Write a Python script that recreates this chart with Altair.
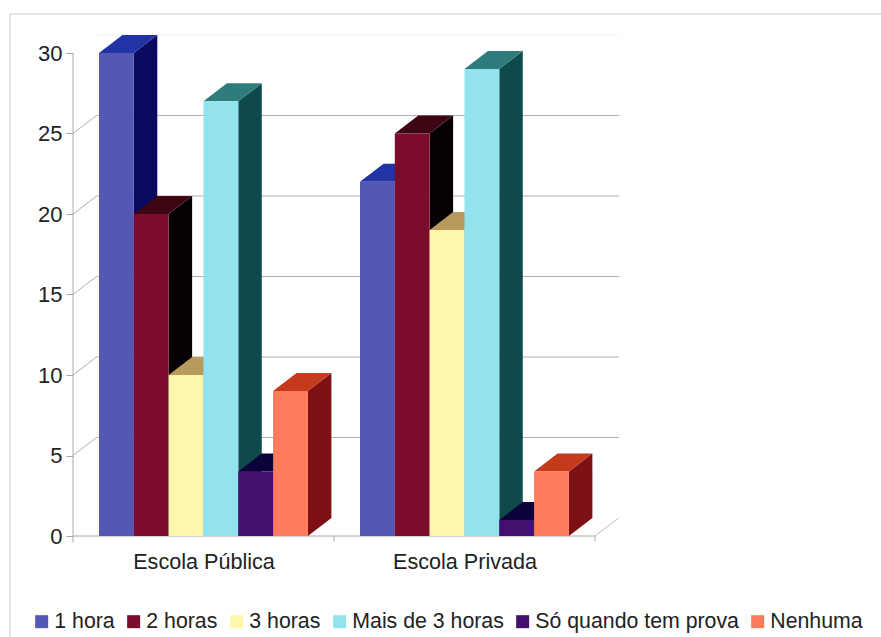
import altair as alt
import pandas as pd

# Hours of study per school type
categories = ["Escola Pública", "Escola Privada"]
series = ["1 hora", "2 horas", "3 horas", "Mais de 3 horas", "Só quando tem prova", "Nenhuma"]
publica = [30, 20, 10, 27, 4, 9]
privada = [22, 25, 19, 29, 1, 4]
y_ticks = [0, 5, 10, 15, 20, 25, 30]
grid_values = [5, 10, 15, 20, 25]

front_colors = ["#5557b4", "#7c0c2c", "#fcf7aa", "#92e3ee", "#42106f", "#ff7b5c"]
top_colors = ["#2233a6", "#3e0512", "#b89a5c", "#2f7c7c", "#0a0238", "#c63a1c"]
side_colors = ["#0a0a60", "#050003", "#77734a", "#0e4a4c", "#100030", "#7d1014"]

# Projection of the 3D box, in axis units
DX = 0.09       # horizontal depth, fraction of a category
DY = 1.118      # vertical depth, in value units
GAP = 0.0996    # margin either side of a category's bars
BAR_W = 0.1334  # bar width, fraction of a category
X_MAX = 546 / 261
Y_MAX = 501 / 16.1
FLOOR_END = 2.0


def faces():
    rows = []
    face_id = 0

    def add(points, color):
        nonlocal face_id
        for x, y, y2 in points:
            rows.append({"x": x, "y": y, "y2": y2, "face": f"f{face_id:03d}", "shade": color})
        face_id += 1

    for c, values in enumerate([publica, privada]):
        for i, v in enumerate(values):
            x0 = c + GAP + i * BAR_W
            x1 = x0 + BAR_W
            # side wall, then top, then the front so neighbours overlap correctly
            add([(x1, v, 0), (x1 + DX, v + DY, DY)], side_colors[i])
            add([
                (x0, v, v),
                (x0 + DX, v + DY, v),
                (x1, v + DY, v),
                (x1 + DX, v + DY, v + DY),
            ], top_colors[i])
            add([(x0, v, 0), (x1, v, 0)], front_colors[i])
    return pd.DataFrame(rows)


def walls():
    rows = []
    for v in grid_values:
        for x, y in [(0, v), (DX, v + DY), (X_MAX, v + DY)]:
            rows.append({"x": x, "y": y, "line": v})
    return pd.DataFrame(rows)


x_scale = alt.Scale(domain=[0, X_MAX], nice=False, zero=False)
y_scale = alt.Scale(domain=[0, Y_MAX], nice=False, zero=False)

label_expr = f"datum.value < 1 ? '{categories[0]}' : '{categories[1]}'"
x_axis = alt.Axis(
    values=[0.5, 1.5], labelExpr=label_expr, title=None, domain=False, ticks=False, grid=False,
    labelFont="Liberation Sans", labelFontSize=21.6, labelColor="#222222", labelPadding=15,
    labelOverlap=False, labelFlush=False,
)
y_axis = alt.Axis(
    values=y_ticks, title=None, domain=False, grid=False, ticks=True, tickSize=7,
    tickColor="#b0a4a4", labelFont="Liberation Sans", labelFontSize=22, labelColor="#222222",
    labelPadding=4,
)
x_enc = alt.X("x:Q", scale=x_scale, axis=x_axis)
y_enc = alt.Y("y:Q", scale=y_scale, axis=y_axis, stack=None)

wall_lines = alt.Chart(walls()).mark_line(color="#b8acac", strokeWidth=1).encode(
    x=x_enc, y=y_enc, detail="line:N",
)

# Faint upper edge of the back wall
top_edge = alt.Chart(pd.DataFrame({"x": [DX], "x2": [X_MAX], "y": [y_ticks[-1] + DY]})).mark_rule(
    color="#f4f1f1", strokeWidth=1
).encode(x=x_enc, x2="x2:Q", y=y_enc)

# Vertical axis line and the floor outline
axis_line = alt.Chart(pd.DataFrame({"x": [0], "y": [y_ticks[0] - 0.4], "y2": [y_ticks[-1]]})).mark_rule(
    color="#b4a8a8", strokeWidth=1
).encode(x=x_enc, y=y_enc, y2="y2:Q")

floor_front = alt.Chart(pd.DataFrame({"x": [0], "x2": [FLOOR_END], "y": [0]})).mark_rule(
    color="#b0a8a8", strokeWidth=1
).encode(x=x_enc, x2="x2:Q", y=y_enc)

floor_ticks = alt.Chart(pd.DataFrame({"x": [1, FLOOR_END], "y": [-0.33, -0.33], "y2": [0, 0]})).mark_rule(
    color="#b0a8a8", strokeWidth=1
).encode(x=x_enc, y=y_enc, y2="y2:Q")

floor_edge = alt.Chart(pd.DataFrame({"x": [FLOOR_END, FLOOR_END + DX], "y": [0, DY]})).mark_line(
    color="#c0baba", strokeWidth=1
).encode(x=x_enc, y=y_enc)

# Outer frame of the chart, open at the right and at the bottom
frame_left = alt.Chart(pd.DataFrame({"k": [0]})).mark_rule(color="#cccccc", strokeWidth=1).encode(
    x=alt.value(-63), y=alt.value(-21), y2=alt.value(602)
)
frame_top = alt.Chart(pd.DataFrame({"k": [0]})).mark_rule(color="#cccccc", strokeWidth=1).encode(
    x=alt.value(-63), x2=alt.value(808), y=alt.value(-21)
)

boxes = alt.Chart(faces()).mark_area(interpolate="linear", opacity=1).encode(
    x=x_enc,
    y=y_enc,
    y2="y2:Q",
    detail="face:N",
    fill=alt.Fill("shade:N", scale=None, legend=None),
)

# Zero-sized squares that only carry the legend
legend_keys = alt.Chart(pd.DataFrame({"serie": series, "x": [0] * 6, "y": [0] * 6})).mark_square(
    size=0, filled=True, opacity=1
).encode(
    x=x_enc,
    y=y_enc,
    color=alt.Color(
        "serie:N",
        scale=alt.Scale(domain=series, range=front_colors),
        sort=series,
        legend=alt.Legend(
            title=None, orient="none", legendX=-42, legendY=576, direction="horizontal",
            columns=6, symbolType="square", symbolSize=169, symbolStrokeWidth=0,
            labelFont="Liberation Sans", labelFontSize=21.3, labelColor="#222222",
            labelOffset=2, columnPadding=8, labelLimit=300,
        ),
    ),
)

chart = alt.layer(
    frame_left, frame_top, wall_lines, top_edge, axis_line, floor_front, floor_ticks, floor_edge,
    boxes, legend_keys,
).properties(
    width=546,
    height=501,
    padding={"left": 73, "top": 35, "right": 262, "bottom": 101},
    autosize=alt.AutoSizeParams(type="none"),
    background="#ffffff",
).configure_view(stroke=None)

chart.save("out.html", embed_options={"renderer": "svg", "actions": False})
